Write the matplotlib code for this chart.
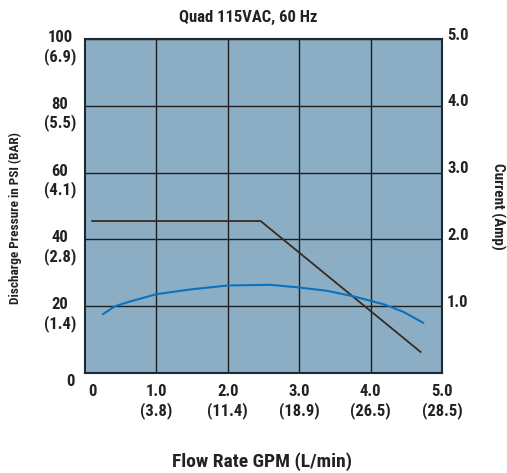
import matplotlib
matplotlib.use("Agg")
import matplotlib.pyplot as plt
from matplotlib import font_manager as fm
from matplotlib.transforms import blended_transform_factory, offset_copy

# ---- pick a bold condensed font if one is installed ----
def _wnum(w):
    if isinstance(w, (int, float)):
        return w
    return {'bold': 700, 'heavy': 800, 'black': 900, 'semibold': 600,
            'demibold': 600, 'normal': 400, 'regular': 400}.get(str(w).lower(), 400)

pref = ['Liberation Sans Narrow', 'Roboto Condensed', 'Open Sans Condensed',
        'Noto Sans Condensed', 'DejaVu Sans Condensed', 'DejaVu Sans']
cands = []
for f in fm.fontManager.ttflist:
    st = str(f.stretch).lower()
    condensed = ('condensed' in st or 'narrow' in f.name.lower()
                 or 'condensed' in f.name.lower()
                 or (isinstance(f.stretch, (int, float)) and f.stretch < 500))
    if condensed and 600 <= _wnum(f.weight) <= 800 and f.style == 'normal':
        rank = next((i for i, p in enumerate(pref) if f.name.startswith(p)), 99)
        cands.append((rank, f.fname))
cands.sort()
BOLD_FILE = cands[0][1] if cands else None


def fp(size):
    if BOLD_FILE:
        return fm.FontProperties(fname=BOLD_FILE, size=size)
    return fm.FontProperties(family='DejaVu Sans', weight='bold', size=size)

title = "Quad 115VAC, 60 Hz"
xlabel = "Flow Rate GPM (L/min)"
ylabel_left = "Discharge Pressure in PSI (BAR)"
ylabel_right = "Current (Amp)"

x_ticks = [1.0, 2.0, 3.0, 4.0, 5.0]
x_tick_labels = ["1.0\n(3.8)", "2.0\n(11.4)", "3.0\n(18.9)", "4.0\n(26.5)", "5.0\n(28.5)"]
y_ticks = [20, 40, 60, 80, 100]
y_tick_labels = ["20\n(1.4)", "40\n(2.8)", "60\n(4.1)", "80\n(5.5)", "100\n(6.9)"]
amp_ticks = [1.0, 2.0, 3.0, 4.0, 5.0]
amp_tick_labels = ["1.0", "2.0", "3.0", "4.0", "5.0"]

gpm_pressure = [0.1, 2.46, 4.7]
psi = [45.5, 45.5, 6.3]

gpm_current = [0.25, 0.42, 0.63, 1.0, 1.47, 2.0, 2.59, 3.0, 3.39, 3.75, 4.18, 4.45, 4.74]
amps = [0.88, 1.00, 1.07, 1.18, 1.25, 1.31, 1.32, 1.28, 1.23, 1.15, 1.03, 0.92, 0.75]

W, H = 507, 473
fig = plt.figure(figsize=(W / 100, H / 100), dpi=100)
L, R, T, B = 85, 442, 39, 373
ax = fig.add_axes([L / W, (H - B) / H, (R - L) / W, (B - T) / H])
ax.set_facecolor('#8caec4')
ax.set_xlim(0, 5)
ax.set_ylim(0, 100)
ax.set_xticks(x_ticks)
ax.set_yticks(y_ticks)
ax.tick_params(length=0, labelleft=False, labelbottom=False)
ax.grid(True, color='#1e1e1e', linewidth=1.0)
for s in ax.spines.values():
    s.set_color('#1e2a33')
    s.set_linewidth(1.5)

ax.plot(gpm_pressure, psi, color='#3a2a1e', linewidth=1.3, zorder=3)

ax2 = ax.twinx()
ax2.set_ylim(0, 5)
ax2.set_yticks([])
ax2.plot(gpm_current, amps, color='#0a72c0', linewidth=1.5, zorder=3,
         solid_capstyle='round', solid_joinstyle='round')
for s in ax2.spines.values():
    s.set_visible(False)

fs = 12
TXT = '#222222'
# left tick labels
tl = blended_transform_factory(fig.transFigure, ax.transData)
for v, lab in zip(y_ticks, y_tick_labels):
    t = offset_copy(tl, fig=fig, x=0, y=9, units='dots')
    ax.text(60 / W, v, lab, transform=t, ha='center', va='top', ma='center',
            fontproperties=fp(fs), linespacing=1.2, color=TXT, clip_on=False)
ax.text(70 / W, 0, "0", transform=offset_copy(tl, fig=fig, x=0, y=-8, units='dots'),
        ha='center', va='center', fontproperties=fp(fs), color=TXT, clip_on=False)

# right tick labels
tr = blended_transform_factory(fig.transFigure, ax2.transData)
for v, lab in zip(amp_ticks, amp_tick_labels):
    t = offset_copy(tr, fig=fig, x=0, y=4, units='dots')
    ax2.text(447 / W, v, lab, transform=t, ha='left', va='center',
             fontproperties=fp(fs), color=TXT, clip_on=False)

# bottom tick labels
tb = blended_transform_factory(ax.transData, fig.transFigure)
for v, lab in zip(x_ticks, x_tick_labels):
    ax.text(v, (H - 384) / H, lab, transform=tb, ha='center', va='top', ma='center',
            fontproperties=fp(fs), linespacing=1.2, color=TXT, clip_on=False)
ax.text(0, (H - 391) / H, "0", transform=offset_copy(tb, fig=fig, x=7, y=0, units='dots'),
        ha='center', va='center', fontproperties=fp(fs), color=TXT, clip_on=False)

fig.text(248 / W, 1 - 17 / H, title, ha='center', va='center', fontproperties=fp(12), color=TXT)
fig.text(262 / W, 1 - 462 / H, xlabel, ha='center', va='center', fontproperties=fp(14), color=TXT)
fig.text(15 / W, 1 - 218 / H, ylabel_left, ha='center', va='center', rotation=90,
         fontproperties=fp(9.5), color=TXT)
fig.text(498 / W, 1 - 206 / H, ylabel_right, ha='center', va='center', rotation=-90,
         fontproperties=fp(11), color=TXT)

fig.savefig('out.png', dpi=100)
